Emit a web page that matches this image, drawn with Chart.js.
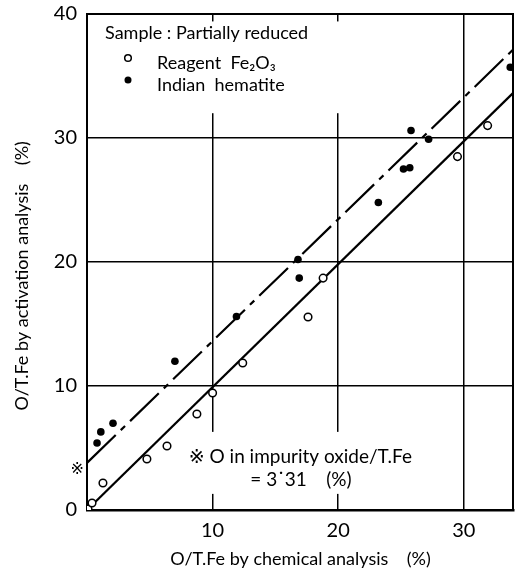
<!DOCTYPE html>
<html><head><meta charset="utf-8">
<script src="https://cdn.jsdelivr.net/npm/chart.js@4.4.0/dist/chart.umd.min.js"></script>
<style>html,body{margin:0;padding:0;background:#fff}#wrap{width:515px;height:571px}</style>
</head><body><div id="wrap"><canvas id="c" width="515" height="571"></canvas></div>
<script>
// ---- data ----
const reagentX = [0.08, 0.4, 1.27, 4.77, 6.37, 8.75, 10.0, 12.4, 17.6, 18.8, 29.5, 31.9];
const reagentY = [0.08, 0.56, 2.18, 4.11, 5.16, 7.74, 9.44, 11.85, 15.56, 18.7, 28.5, 31.0];
const indianX = [0.8, 1.1, 2.07, 7.0, 11.9, 16.8, 16.9, 23.2, 25.2, 25.7, 25.8, 27.2, 33.7];
const indianY = [5.4, 6.3, 7.0, 12.0, 15.6, 20.2, 18.7, 24.8, 27.5, 27.6, 30.6, 29.9, 35.7];
const solidLineX = [0, 34];
const solidLineY = [0, 33.7];
const dashLineX = [0, 34];
const dashLineY = [3.8, 37.2];
const xTickValues = [0, 10, 20, 30];
const yTickValues = [0, 10, 20, 30, 40];
const impurityValue = 3.31;
const legendTitle = "Sample : Partially reduced";
const seriesNames = ["Reagent  Fe\u2082O\u2083", "Indian  hematite"];
const noteLine1 = "\u203B O in impurity oxide/T.Fe";
const noteLine2 = "= 3\u02D931    (%)";
const xTitle = "O/T.Fe by chemical analysis    (%)";
const yTitle = "O/T.Fe by activation analysis    (%)      ";

const FONT = "Lato, 'DejaVu Sans', sans-serif";
const pts = (xs, ys) => xs.map((x, i) => ({x, y: ys[i]}));

const overlay = {
  id: 'overlay',
  beforeDatasetsDraw(chart) {
    const {ctx, chartArea: a, scales: {x, y}} = chart;
    ctx.save();
    ctx.fillStyle = '#fff';
    // blank the grid behind the legend and the note text
    ctx.fillRect(a.left + 2, y.getPixelForValue(39.4), x.getPixelForValue(21) - a.left - 2, y.getPixelForValue(32) - y.getPixelForValue(39.4));
    ctx.fillRect(x.getPixelForValue(7.5), y.getPixelForValue(6.3), x.getPixelForValue(26.5) - x.getPixelForValue(7.5), y.getPixelForValue(1.3) - y.getPixelForValue(6.3));
    // frame
    ctx.strokeStyle = '#000';
    ctx.lineWidth = 2;
    ctx.strokeRect(a.left, a.top, a.right - a.left - 1, a.bottom - a.top);
    ctx.restore();
  },
  afterDraw(chart) {
    const {ctx, chartArea: a, scales: {x, y}} = chart;
    ctx.save();
    ctx.fillStyle = '#000';
    ctx.textBaseline = 'middle';
    ctx.textAlign = 'left';
    ctx.font = "18px " + FONT;
    ctx.fillText(legendTitle, a.left + 18, a.top + 19);
    ctx.fillText(seriesNames[0], a.left + 70, a.top + 49);
    ctx.fillText(seriesNames[1], a.left + 70, a.top + 71);
    // legend symbols
    ctx.lineWidth = 1.5;
    ctx.beginPath(); ctx.arc(a.left + 41, a.top + 44, 3.3, 0, Math.PI * 2);
    ctx.fillStyle = '#fff'; ctx.fill(); ctx.strokeStyle = '#000'; ctx.stroke();
    ctx.fillStyle = '#000';
    ctx.beginPath(); ctx.arc(a.left + 41, a.top + 66, 3.5, 0, Math.PI * 2); ctx.fill();
    // note
    ctx.font = "19px " + FONT;
    ctx.textAlign = 'left';
    ctx.fillText(noteLine1, x.getPixelForValue(8.1), y.getPixelForValue(4.3));
    ctx.fillText(noteLine2, x.getPixelForValue(13), y.getPixelForValue(2.45));
    // intercept marker on the y axis
    ctx.font = "16px " + FONT;
    ctx.textAlign = 'right';
    ctx.fillText("\u203B", a.left - 3, y.getPixelForValue(impurityValue));
    ctx.restore();
  }
};

new Chart(document.getElementById('c'), {
  type: 'scatter',
  data: {
    datasets: [
      { label: seriesNames[0], data: pts(reagentX, reagentY), pointStyle: 'circle', pointRadius: 3.8, pointBorderWidth: 1.5,
        pointBackgroundColor: '#fff', pointBorderColor: '#000', showLine: false },
      { label: seriesNames[1], data: pts(indianX, indianY), pointStyle: 'circle', pointRadius: 3.8, pointBorderWidth: 0,
        pointBackgroundColor: '#000', pointBorderColor: '#000', showLine: false },
      { label: 'fit', data: pts(solidLineX, solidLineY), showLine: true, pointRadius: 0, borderColor: '#000', borderWidth: 2.2 },
      { label: 'fit2', data: pts(dashLineX, dashLineY), showLine: true, pointRadius: 0, borderColor: '#000', borderWidth: 2.2,
        borderDash: [40, 7, 6, 7] }
    ]
  },
  options: {
    responsive: false, animation: false, devicePixelRatio: 1,
    layout: { autoPadding: false, padding: { top: 14, right: 1, left: 0, bottom: 0 } },
    plugins: { legend: { display: false }, tooltip: { enabled: false } },
    scales: {
      x: {
        type: 'linear', min: 0, max: 34,
        afterBuildTicks: s => { s.ticks = xTickValues.map(v => ({value: v})); },
        afterFit: s => { s.height = 61; s.paddingLeft = 0; s.paddingRight = 0; },
        grid: { color: '#000', lineWidth: 1.5, drawTicks: false },
        border: { display: true, color: '#000', width: 2.5 },
        ticks: { color: '#000', padding: 9, font: { family: FONT, size: 20 }, maxRotation: 0,
          callback: v => v === 0 ? '' : String(v) },
        title: { display: true, text: xTitle, color: '#000', font: { family: FONT, size: 18 }, padding: { top: 0, bottom: 1 } }
      },
      y: {
        type: 'linear', min: 0, max: 40,
        afterBuildTicks: s => { s.ticks = yTickValues.map(v => ({value: v})); },
        afterFit: s => { s.width = 87; s.paddingTop = 0; s.paddingBottom = 0; },
        grid: { color: '#000', lineWidth: 1.5, drawTicks: false },
        border: { display: true, color: '#000', width: 2 },
        ticks: { color: '#000', padding: 10, font: { family: FONT, size: 20 } },
        title: { display: true, text: yTitle, color: '#000', font: { family: FONT, size: 18 }, padding: { top: 11, bottom: 0 } }
      }
    }
  },
  plugins: [overlay]
});
</script></body></html>
